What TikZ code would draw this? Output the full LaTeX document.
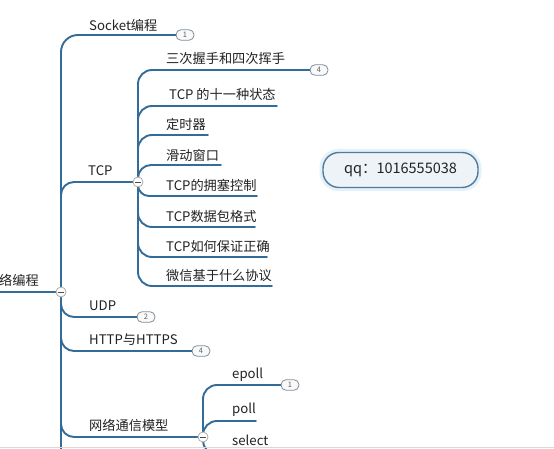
\documentclass[tikz,border=0pt]{standalone}
\usepackage{fontspec}
\setmainfont{Noto Sans CJK SC}
\definecolor{branch}{HTML}{336C98}
\definecolor{txt}{HTML}{222222}
\definecolor{qqedge}{HTML}{4F7C9C}
\definecolor{qqfill}{HTML}{EEF3F8}
\definecolor{qqglow}{HTML}{E4F1F9}
\definecolor{badgeedge}{HTML}{7F8E9A}
\begin{document}
\begin{tikzpicture}[x=1pt,y=-1pt,
  lbl/.style={anchor=west,inner sep=0pt,text=txt,font=\fontsize{13.2}{15}\selectfont},
  conn/.style={draw=branch,line width=1.9pt,line cap=round},
  badge/.style={draw=badgeedge,fill=gray!5,line width=0.8pt,rounded corners=5pt,
    minimum width=18pt,minimum height=10.5pt,inner sep=0pt,text=gray!75!black,
    font=\fontsize{7.5}{8}\selectfont},
  collapse/.style={circle,draw=gray!65,fill=white,line width=0.8pt,minimum size=10pt,inner sep=0pt,
    path picture={\draw[line width=0.9pt,gray!60!black]
      ([xshift=-2.6pt]path picture bounding box.center) -- ([xshift=2.6pt]path picture bounding box.center);}}]
\useasboundingbox (0,0) rectangle (554,449);
\clip (0,0) rectangle (554,449);
\fill[white] (0,0) rectangle (554,449);

% anchor points
\coordinate (c0) at (61,292);
\coordinate (c1) at (138,182);
\coordinate (c2) at (203,437);
\coordinate (rootL) at (-2,292);
\coordinate (trunkEnd) at (61,470);

% labels
\node[lbl] (root) at (-1,280) {络编程};
\node[lbl] (sock) at (89,25) {Socket编程};
\node[lbl] (tcp) at (88,171) {TCP};
\node[lbl] (t1) at (166,59) {三次握手和四次挥手};
\node[lbl] (t2) at (169,94) {TCP 的十一种状态};
\node[lbl] (t3) at (166,124) {定时器};
\node[lbl] (t4) at (166,155) {滑动窗口};
\node[lbl] (t5) at (166,185) {TCP的拥塞控制};
\node[lbl] (t6) at (166,216) {TCP数据包格式};
\node[lbl] (t7) at (166,246) {TCP如何保证正确};
\node[lbl] (t8) at (166,276) {微信基于什么协议};
\node[lbl] (udp) at (89,306) {UDP};
\node[lbl] (http) at (89,340) {HTTP与HTTPS};
\node[lbl] (net) at (89,425) {网络通信模型};
\node[lbl] (ep) at (232,375) {epoll};
\node[lbl] (pl) at (232,410) {poll};
\node[lbl] (sel) at (232,440) {select};

% line ends
\coordinate (e2) at (277,106);
\coordinate (e3) at (208,135);
\coordinate (e4) at (221,165);
\coordinate (e5) at (257,196);
\coordinate (e6) at (255,227);
\coordinate (e7) at (267,257);
\coordinate (e8) at (272,286);
\coordinate (ep2) at (256,421);
\coordinate (es) at (275,453);

% badges
\node[badge] (b1) at (185,35) {1};
\node[badge] (b4a) at (319,70) {4};
\node[badge] (b2) at (146,317) {2};
\node[badge] (b4b) at (201,351) {4};
\node[badge] (b1b) at (290,385) {1};

% connectors
\draw[conn] (rootL) -- (c0);
\draw[conn] (c0) -- (trunkEnd);
\draw[conn,rounded corners=17pt] (c0) |- (b1.west);
\draw[conn,rounded corners=13pt] (c0) |- (c1);
\draw[conn,rounded corners=13pt] (c0) |- (b2.west);
\draw[conn,rounded corners=13pt] (c0) |- (b4b.west);
\draw[conn,rounded corners=13pt] (c0) |- (c2);
\draw[conn,rounded corners=14pt] (c1) |- (b4a.west);
\draw[conn,rounded corners=14pt] (c1) |- (e2);
\draw[conn,rounded corners=14pt] (c1) |- (e3);
\draw[conn,rounded corners=13pt] (c1) |- (e4);
\draw[conn,rounded corners=11pt] (c1) |- (e5);
\draw[conn,rounded corners=14pt] (c1) |- (e6);
\draw[conn,rounded corners=14pt] (c1) |- (e7);
\draw[conn,rounded corners=14pt] (c1) |- (e8);
\draw[conn,rounded corners=14pt] (c2) |- (b1b.west);
\draw[conn,rounded corners=14pt] (c2) |- (ep2);
\draw[conn,rounded corners=12pt] (c2) |- (es);

% collapse markers
\node[collapse] (k0) at (c0) {};
\node[collapse] (k1) at (c1) {};
\node[collapse] (k2) at (c2) {};

% qq box
\node[draw=qqglow,line width=4pt,rounded corners=17pt,minimum width=158pt,minimum height=38pt] (qqg) at (400.5,170) {};
\node[draw=qqedge,fill=qqfill,line width=1.4pt,rounded corners=16pt,minimum width=155pt,minimum height=35pt,
  text=txt,font=\fontsize{14.5}{16}\selectfont] (qq) at (400.5,170) {qq：1016555038};

% bottom edge
\draw[gray!30,line width=0.8pt] (0,447.5) -- (554,447.5);
\end{tikzpicture}
\end{document}
